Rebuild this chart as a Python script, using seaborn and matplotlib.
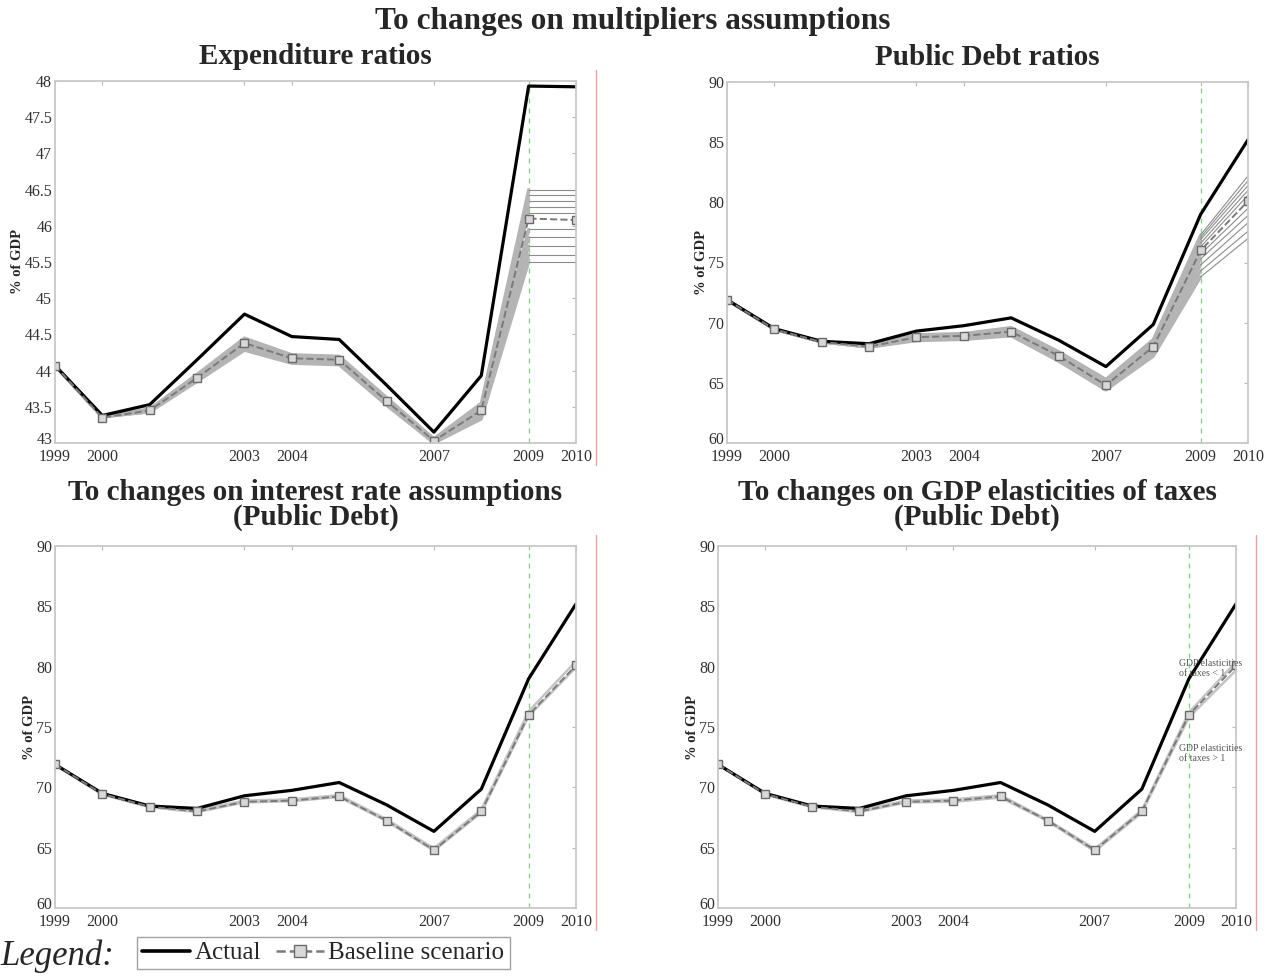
import numpy as np
import pandas as pd
import seaborn as sns
import matplotlib
matplotlib.use('Agg')
import matplotlib.pyplot as plt
from matplotlib.lines import Line2D
from matplotlib.ticker import FuncFormatter
from matplotlib.transforms import ScaledTranslation

sns.set_style("white")
plt.rcParams['font.family'] = ['Liberation Serif', 'DejaVu Serif']

## data (% of GDP)
years = [1999, 2000, 2001, 2002, 2003, 2004, 2005, 2006, 2007, 2008, 2009, 2010]
tick_years = [1999, 2000, 2003, 2004, 2007, 2009, 2010]

exp_actual = [44.07, 43.38, 43.53, 44.15, 44.78, 44.47, 44.43, 43.80, 43.15, 43.93, 47.93, 47.92]
exp_base = [44.07, 43.35, 43.45, 43.90, 44.38, 44.17, 44.15, 43.58, 43.03, 43.45, 46.10, 46.08]
exp_scen = [
    [44.07, 43.36, 43.43, 43.85, 44.28, 44.10, 44.08, 43.52, 43.00, 43.33, 45.50, 45.50],
    [44.07, 43.36, 43.43, 43.86, 44.30, 44.11, 44.09, 43.53, 43.01, 43.35, 45.60, 45.60],
    [44.07, 43.36, 43.44, 43.87, 44.32, 44.12, 44.10, 43.54, 43.01, 43.37, 45.72, 45.72],
    [44.07, 43.36, 43.44, 43.88, 44.34, 44.14, 44.12, 43.55, 43.02, 43.40, 45.84, 45.84],
    [44.07, 43.36, 43.45, 43.89, 44.36, 44.15, 44.13, 43.57, 43.02, 43.43, 45.95, 45.95],
    [44.07, 43.36, 43.45, 43.91, 44.40, 44.18, 44.16, 43.59, 43.04, 43.47, 46.18, 46.18],
    [44.07, 43.36, 43.46, 43.92, 44.41, 44.19, 44.17, 43.60, 43.04, 43.49, 46.26, 46.26],
    [44.07, 43.36, 43.46, 43.93, 44.42, 44.20, 44.18, 43.61, 43.05, 43.51, 46.34, 46.34],
    [44.07, 43.36, 43.47, 43.94, 44.44, 44.21, 44.19, 43.62, 43.05, 43.53, 46.42, 46.42],
    [44.07, 43.36, 43.47, 43.95, 44.45, 44.22, 44.20, 43.63, 43.06, 43.55, 46.50, 46.50],
]

debt_actual = [71.90, 69.50, 68.45, 68.25, 69.30, 69.75, 70.40, 68.55, 66.35, 69.85, 79.00, 85.20]
debt_base = [71.90, 69.45, 68.40, 68.00, 68.80, 68.90, 69.25, 67.25, 64.80, 68.00, 76.00, 80.10]
mult_scen = [
    [71.9, 69.45, 68.4, 67.95, 68.50, 68.60, 68.90, 66.80, 64.40, 67.20, 73.8, 77.0],
    [71.9, 69.45, 68.4, 67.97, 68.58, 68.68, 69.00, 66.90, 64.50, 67.40, 74.3, 77.6],
    [71.9, 69.45, 68.4, 67.98, 68.65, 68.75, 69.10, 67.00, 64.60, 67.60, 74.8, 78.3],
    [71.9, 69.45, 68.4, 67.99, 68.70, 68.82, 69.15, 67.10, 64.70, 67.80, 75.3, 78.9],
    [71.9, 69.45, 68.4, 68.00, 68.75, 68.86, 69.20, 67.18, 64.75, 67.90, 75.7, 79.5],
    [71.9, 69.45, 68.4, 68.02, 68.85, 68.95, 69.30, 67.32, 64.88, 68.10, 76.3, 80.6],
    [71.9, 69.45, 68.4, 68.04, 68.90, 69.00, 69.38, 67.40, 64.98, 68.25, 76.6, 81.0],
    [71.9, 69.45, 68.4, 68.06, 68.94, 69.04, 69.46, 67.48, 65.08, 68.40, 76.9, 81.4],
    [71.9, 69.45, 68.4, 68.08, 68.97, 69.07, 69.54, 67.55, 65.18, 68.50, 77.1, 81.8],
    [71.9, 69.45, 68.4, 68.10, 69.00, 69.10, 69.60, 67.60, 65.30, 68.60, 77.3, 82.2],
]
rate_scen = [
    [71.90, 69.50, 68.45, 68.10, 68.90, 69.00, 69.35, 67.35, 64.95, 68.15, 76.30, 80.45],
    [71.85, 69.40, 68.35, 67.95, 68.75, 68.85, 69.20, 67.20, 64.75, 67.90, 75.90, 79.95],
]
elast_scen = [
    [71.90, 69.50, 68.45, 68.10, 68.90, 69.00, 69.35, 67.30, 64.90, 68.10, 76.20, 80.40],
    [71.90, 69.40, 68.35, 67.95, 68.75, 68.80, 69.15, 67.20, 64.70, 67.90, 75.80, 79.70],
]


def scen_frame(scen):
    rows = []
    for k, vals in enumerate(scen):
        for yr, v in zip(years, vals):
            rows.append({'year': yr, 'value': v, 'scen': k})
    return pd.DataFrame(rows)


def draw_panel(ax, actual, base, scen, ylim, yticks, split_tail):
    df = scen_frame(scen)
    if split_tail:
        # sensitivity fan: thick light lines up to 2009, thin lines after
        head = df[df['year'] <= 2009]
        tail = df[df['year'] >= 2009]
        sns.lineplot(data=head, x='year', y='value', units='scen', estimator=None,
                     color='#b4b4b4', lw=2.2, ax=ax, legend=False)
        sns.lineplot(data=tail, x='year', y='value', units='scen', estimator=None,
                     color='#8c8c8c', lw=0.8, ax=ax, legend=False)
    else:
        sns.lineplot(data=df, x='year', y='value', units='scen', estimator=None,
                     color='#c4c4c4', lw=1.8, ax=ax, legend=False)
    ax.axvline(2009, color='#7fd47f', lw=0.9, ls=(0, (4, 4)), zorder=1)
    sns.lineplot(x=years, y=actual, color='black', lw=2.3, ax=ax)
    sns.lineplot(x=years, y=base, color='#7a7a7a', lw=1.4, ax=ax, linestyle='--',
                 marker='s', markersize=5.5, markerfacecolor='#d8d8d8',
                 markeredgecolor='#6a6a6a', markeredgewidth=1.0)
    ax.set_xlim(1999, 2010)
    ax.set_ylim(*ylim)
    ax.set_xticks(tick_years)
    ax.set_yticks(yticks)
    ax.yaxis.set_major_formatter(FuncFormatter(lambda v, p: '%g' % v))
    ax.tick_params(direction='in', length=3, width=0.8, color='#b8b8b8',
                   labelsize=11.5, labelcolor='#303030', top=True, right=True, pad=2)
    ax.tick_params(axis='x', pad=4)
    for s in ax.spines.values():
        s.set_color('#c8c8c8')
        s.set_linewidth(1.3)
    ax.set_xlabel('')
    ax.set_ylabel('% of GDP', fontsize=10.5, fontweight='bold', labelpad=0)


fig = plt.figure(figsize=(12.66, 9.76), dpi=100)
W, H = 1266.0, 976.0


def add_axes(l, t, r, b):
    return fig.add_axes([l / W, 1 - b / H, (r - l) / W, (b - t) / H])


ax1 = add_axes(55, 81, 576, 443)
ax2 = add_axes(727, 82, 1248, 443)
ax3 = add_axes(55, 546, 576, 908)
ax4 = add_axes(718, 546, 1236, 908)

tfont = dict(fontsize=21, fontweight='bold')
draw_panel(ax1, exp_actual, exp_base, exp_scen, (43, 48), np.arange(43, 48.01, 0.5), True)
ax1.set_title('Expenditure ratios', pad=12, **tfont)
draw_panel(ax2, debt_actual, debt_base, mult_scen, (60, 90), range(60, 91, 5), True)
ax2.set_title('Public Debt ratios', pad=12, **tfont)
draw_panel(ax3, debt_actual, debt_base, rate_scen, (60, 90), range(60, 91, 5), False)
ax3.set_title('To changes on interest rate assumptions\n(Public Debt)', pad=15,
              linespacing=0.92, **tfont)
draw_panel(ax4, debt_actual, debt_base, elast_scen, (60, 90), range(60, 91, 5), False)
ax4.set_title('To changes on GDP elasticities of taxes\n(Public Debt)', pad=15,
              linespacing=0.92, **tfont)

ax4.text(2008.78, 80.6, 'GDP elasticities\nof taxes < 1', fontsize=7, color='#555555',
         va='top', ha='left', linespacing=1.1)
ax4.text(2008.78, 73.6, 'GDP elasticities\nof taxes > 1', fontsize=7, color='#555555',
         va='top', ha='left', linespacing=1.1)

fig.text(0.5, 1 - 21 / H, 'To changes on multipliers assumptions', ha='center', va='center',
         fontsize=22.5, fontweight='bold')

# lift the lowest y label a touch so it sits just above the first year label
for ax in (ax1, ax2, ax3, ax4):
    lab = ax.get_yticklabels()[0]
    lab.set_transform(lab.get_transform() + ScaledTranslation(0, 3.5 / 72, fig.dpi_scale_trans))

# thin red guide lines at the right of some panels
for x, y0, y1 in [(596, 70, 465), (596, 535, 930), (1256, 535, 930)]:
    fig.add_artist(Line2D([x / W, x / W], [1 - y0 / H, 1 - y1 / H], color='#f4a0a0', lw=1.0))

handles = [
    Line2D([], [], color='black', lw=2.6),
    Line2D([], [], color='#7a7a7a', lw=1.8, ls='--', marker='s', markersize=8,
           markerfacecolor='#d8d8d8', markeredgecolor='#6a6a6a'),
]
leg = fig.legend(handles, ['Actual', 'Baseline scenario'], loc='center left',
                 bbox_to_anchor=(137 / W, 1 - 953 / H), ncol=2, frameon=True,
                 fancybox=False, edgecolor='#8a8a8a', fontsize=18, handlelength=1.9,
                 handletextpad=0.2, columnspacing=0.6, borderpad=0.2,
                 borderaxespad=0)
leg.get_frame().set_linewidth(1.0)
fig.text(0.0, 1 - 956 / H, 'Legend:', fontsize=25, style='italic', va='center', ha='left')

fig.savefig('out.png', dpi=100)
